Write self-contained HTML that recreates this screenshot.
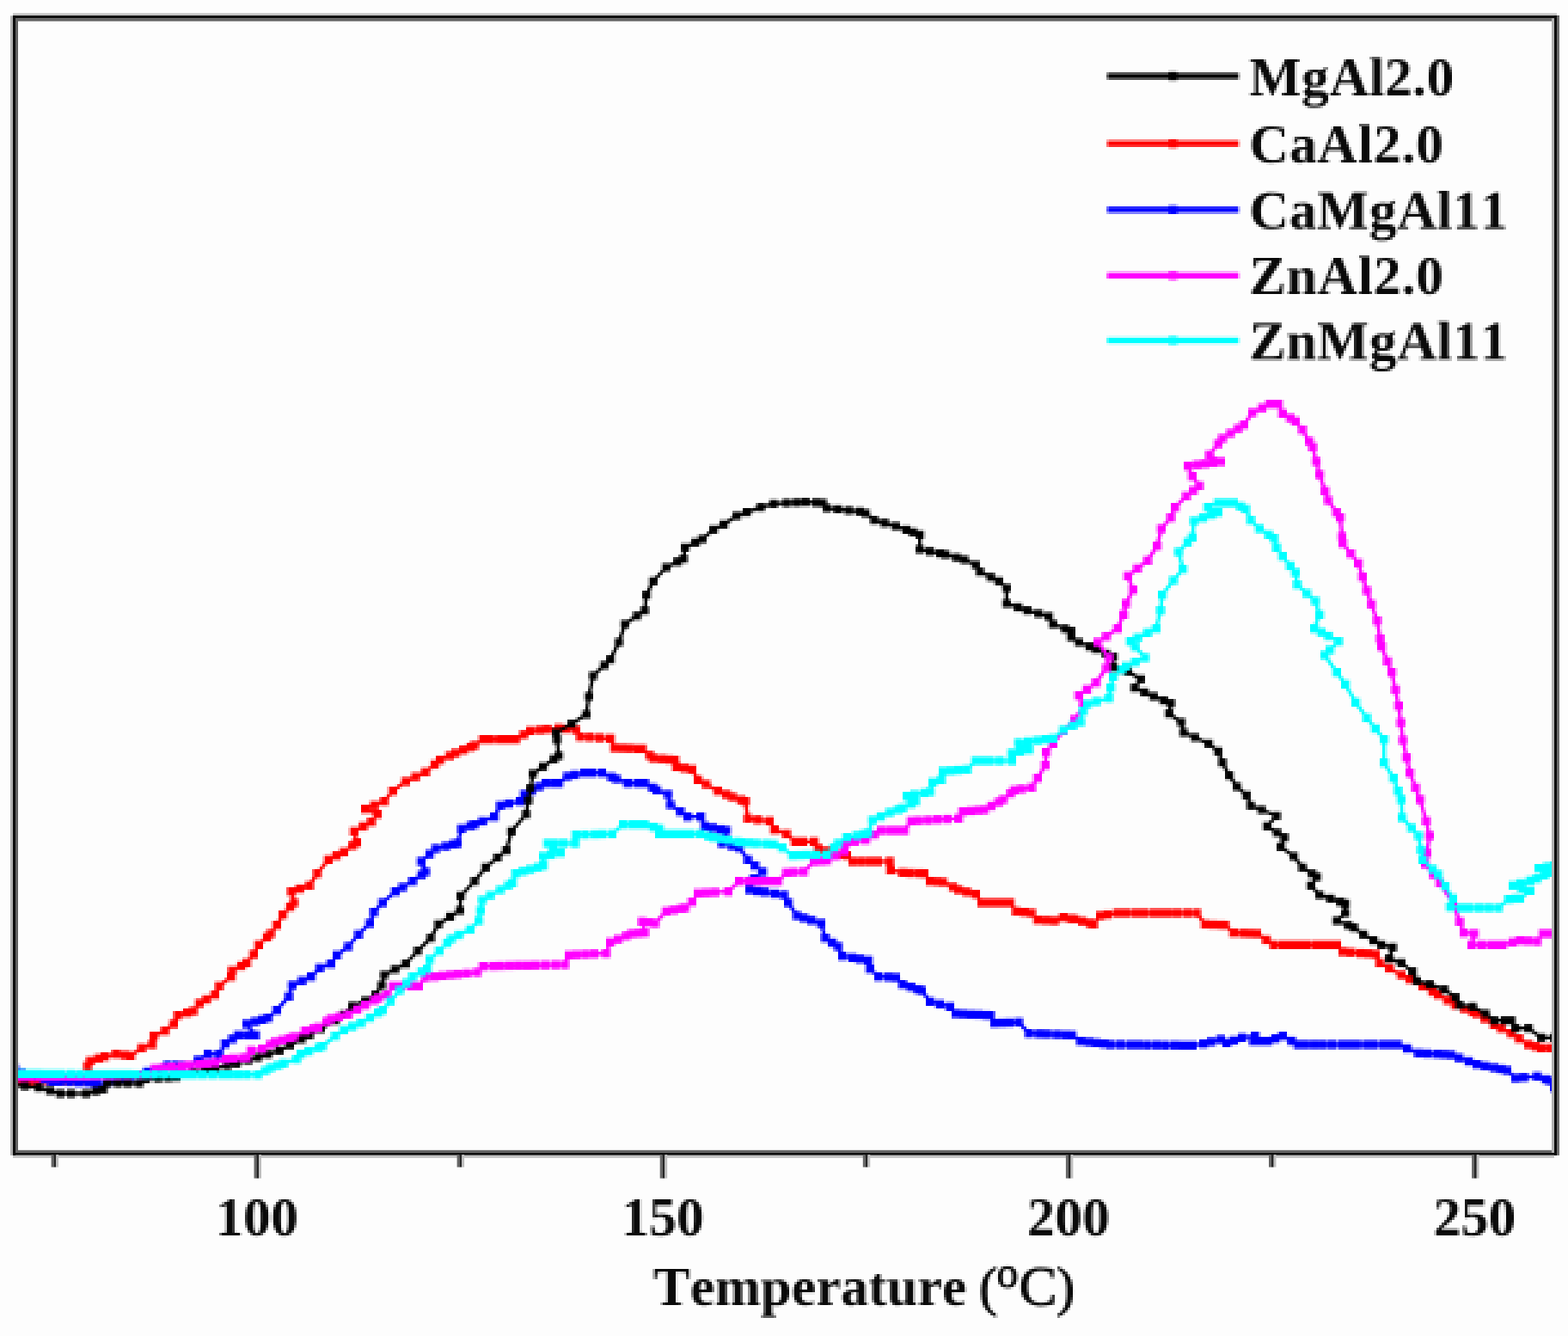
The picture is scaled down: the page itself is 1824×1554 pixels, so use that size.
<!DOCTYPE html>
<html><head><meta charset="utf-8"><title>TPD profiles</title>
<style>
html,body{margin:0;padding:0;background:#fdfdfd;}
body{width:1824px;height:1554px;}
svg{display:block;}
text{font-family:"Liberation Serif",serif;font-weight:bold;fill:#0a0a0a;font-kerning:none;font-variant-ligatures:none;}
.r{font-weight:normal;stroke:#0a0a0a;stroke-width:1.3px;}
</style></head><body>
<svg width="1824" height="1554" viewBox="0 0 1824 1554">
<defs><filter id="b2" x="0" y="0" width="1824" height="1554" filterUnits="userSpaceOnUse"><feGaussianBlur stdDeviation="0.55"/></filter>
<filter id="px" x="0" y="0" width="1824" height="1554" filterUnits="userSpaceOnUse" color-interpolation-filters="sRGB">
<feConvolveMatrix in="SourceGraphic" order="3" kernelMatrix="1 1 1 1 1 1 1 1 1" divisor="9" edgeMode="none" preserveAlpha="false" result="avg"/>
<feFlood x="1" y="1" width="1" height="1" flood-color="#000"/>
<feComposite width="3" height="3"/>
<feTile result="grid"/>
<feComposite in="avg" in2="grid" operator="in"/>
<feMorphology operator="dilate" radius="1"/>
<feGaussianBlur stdDeviation="0.6"/>
</filter>
<clipPath id="c"><rect x="17" y="20.5" width="1793" height="1321"/></clipPath></defs>
<rect width="1824" height="1554" fill="#fdfdfd"/>
<g filter="url(#px)">
<g clip-path="url(#c)">

<g id="red">
<polyline points="17,1257 100,1257 102,1240 105,1234 122,1229 135,1226 152,1228 165,1219 177,1215 179,1205 192,1199 202,1191 207,1181 225,1176 232,1167 250,1157 255,1147 269,1136 270,1129 287,1120 295,1110 301,1099 315,1086 322,1076 329,1064 342,1050 339,1037 360,1030 369,1016 382,1000 400,991 415,980 412,967 432,956 439,947 425,941 447,932 457,920 472,909 495,898 512,884 530,876 552,867 562,860 600,860 617,850 650,847 670,849 675,857 710,859 715,870 747,871 760,882 785,884 787,892 805,895 812,907 835,920 852,927 867,932 870,952 895,955 901,965 915,970 925,979 947,979 952,987 970,992 985,995 992,1002 1035,1002 1036,1012 1050,1015 1075,1016 1082,1025 1097,1026 1115,1035 1135,1040 1142,1050 1175,1050 1182,1060 1200,1062 1207,1070 1227,1071 1237,1067 1250,1069 1272,1075 1280,1065 1300,1062 1392,1062 1402,1075 1425,1076 1435,1085 1462,1086 1482,1099 1555,1099 1562,1107 1600,1110 1605,1120 1630,1134 1655,1147 1673,1157 1693,1169 1718,1179 1738,1192 1758,1202 1778,1215 1793,1219 1808,1219" fill="none" stroke="#ff0000" stroke-width="4.2" stroke-linejoin="bevel" stroke-linecap="butt"/>
<path d="M12 1252h10v10h-10zM21 1252h10v10h-10zM31 1252h10v10h-10zM40.4 1252h10v10h-10zM50.7 1252h10v10h-10zM61.1 1252h10v10h-10zM69.4 1252h10v10h-10zM77.6 1252h10v10h-10zM88.7 1252h10v10h-10zM95 1252h10v10h-10zM97 1235h10v10h-10zM100 1229h10v10h-10zM109.8 1226.1h10v10h-10zM117 1224h10v10h-10zM130 1221h10v10h-10zM140.4 1222.2h10v10h-10zM147 1223h10v10h-10zM160 1214h10v10h-10zM172 1210h10v10h-10zM174 1200h10v10h-10zM187 1194h10v10h-10zM197 1186h10v10h-10zM202 1176h10v10h-10zM212.8 1173h10v10h-10zM220 1171h10v10h-10zM227 1162h10v10h-10zM235.2 1157.4h10v10h-10zM245 1152h10v10h-10zM250 1142h10v10h-10zM264 1131h10v10h-10zM265 1124h10v10h-10zM275.7 1118.4h10v10h-10zM282 1115h10v10h-10zM290 1105h10v10h-10zM296 1094h10v10h-10zM305.7 1085h10v10h-10zM310 1081h10v10h-10zM317 1071h10v10h-10zM324 1059h10v10h-10zM332.6 1049.7h10v10h-10zM337 1045h10v10h-10zM334 1032h10v10h-10zM343.7 1028.8h10v10h-10zM355 1025h10v10h-10zM364 1011h10v10h-10zM377 995h10v10h-10zM386.5 990.3h10v10h-10zM395 986h10v10h-10zM405.2 978.5h10v10h-10zM410 975h10v10h-10zM407 962h10v10h-10zM417.6 956.2h10v10h-10zM427 951h10v10h-10zM434 942h10v10h-10zM420 936h10v10h-10zM430.5 931.7h10v10h-10zM442 927h10v10h-10zM452 915h10v10h-10zM467 904h10v10h-10zM478.4 898.6h10v10h-10zM490 893h10v10h-10zM500.7 884.2h10v10h-10zM507 879h10v10h-10zM518.1 874.1h10v10h-10zM525 871h10v10h-10zM534.1 867.3h10v10h-10zM542.5 863.9h10v10h-10zM547 862h10v10h-10zM557 855h10v10h-10zM565.4 855h10v10h-10zM576.4 855h10v10h-10zM586 855h10v10h-10zM595 855h10v10h-10zM604.2 849.6h10v10h-10zM612 845h10v10h-10zM623.2 844h10v10h-10zM631.5 843.2h10v10h-10zM645 842h10v10h-10zM653.3 842.8h10v10h-10zM665 844h10v10h-10zM670 852h10v10h-10zM681.3 852.6h10v10h-10zM692.9 853.3h10v10h-10zM705 854h10v10h-10zM710 865h10v10h-10zM719.2 865.3h10v10h-10zM727.6 865.5h10v10h-10zM737.9 865.9h10v10h-10zM742 866h10v10h-10zM750.8 873.5h10v10h-10zM755 877h10v10h-10zM765.3 877.8h10v10h-10zM774 878.5h10v10h-10zM780 879h10v10h-10zM782 887h10v10h-10zM791.2 888.5h10v10h-10zM800 890h10v10h-10zM807 902h10v10h-10zM816.5 907.3h10v10h-10zM830 915h10v10h-10zM840 919.1h10v10h-10zM847 922h10v10h-10zM857.2 925.4h10v10h-10zM862 927h10v10h-10zM865 947h10v10h-10zM876.5 948.4h10v10h-10zM890 950h10v10h-10zM896 960h10v10h-10zM910 965h10v10h-10zM920 974h10v10h-10zM929.2 974h10v10h-10zM942 974h10v10h-10zM947 982h10v10h-10zM957.1 984.8h10v10h-10zM965 987h10v10h-10zM974.6 988.9h10v10h-10zM980 990h10v10h-10zM987 997h10v10h-10zM997.3 997h10v10h-10zM1007.7 997h10v10h-10zM1016 997h10v10h-10zM1030 997h10v10h-10zM1031 1007h10v10h-10zM1045 1010h10v10h-10zM1054.4 1010.4h10v10h-10zM1065 1010.8h10v10h-10zM1070 1011h10v10h-10zM1077 1020h10v10h-10zM1085.3 1020.6h10v10h-10zM1092 1021h10v10h-10zM1103.6 1026.8h10v10h-10zM1110 1030h10v10h-10zM1119.7 1032.4h10v10h-10zM1130 1035h10v10h-10zM1137 1045h10v10h-10zM1146.4 1045h10v10h-10zM1155.6 1045h10v10h-10zM1165.1 1045h10v10h-10zM1170 1045h10v10h-10zM1177 1055h10v10h-10zM1186.5 1056.1h10v10h-10zM1195 1057h10v10h-10zM1202 1065h10v10h-10zM1212.1 1065.5h10v10h-10zM1222 1066h10v10h-10zM1232 1062h10v10h-10zM1240.9 1063.4h10v10h-10zM1245 1064h10v10h-10zM1254 1066.4h10v10h-10zM1262.7 1068.8h10v10h-10zM1267 1070h10v10h-10zM1275 1060h10v10h-10zM1283.5 1058.7h10v10h-10zM1295 1057h10v10h-10zM1304.3 1057h10v10h-10zM1315.4 1057h10v10h-10zM1325.1 1057h10v10h-10zM1336.3 1057h10v10h-10zM1345 1057h10v10h-10zM1354.3 1057h10v10h-10zM1364.7 1057h10v10h-10zM1376 1057h10v10h-10zM1387 1057h10v10h-10zM1397 1070h10v10h-10zM1405.5 1070.4h10v10h-10zM1415.5 1070.8h10v10h-10zM1420 1071h10v10h-10zM1430 1080h10v10h-10zM1441.1 1080.4h10v10h-10zM1449.9 1080.7h10v10h-10zM1457 1081h10v10h-10zM1468 1088.2h10v10h-10zM1477 1094h10v10h-10zM1488 1094h10v10h-10zM1497.3 1094h10v10h-10zM1505.9 1094h10v10h-10zM1515.1 1094h10v10h-10zM1526 1094h10v10h-10zM1535.1 1094h10v10h-10zM1544.4 1094h10v10h-10zM1550 1094h10v10h-10zM1557 1102h10v10h-10zM1566.6 1102.8h10v10h-10zM1578 1103.7h10v10h-10zM1586.7 1104.3h10v10h-10zM1595 1105h10v10h-10zM1600 1115h10v10h-10zM1611.3 1121.3h10v10h-10zM1625 1129h10v10h-10zM1634.7 1134h10v10h-10zM1650 1142h10v10h-10zM1661.4 1148.4h10v10h-10zM1668 1152h10v10h-10zM1678.8 1158.5h10v10h-10zM1688 1164h10v10h-10zM1698.5 1168.2h10v10h-10zM1708.5 1172.2h10v10h-10zM1713 1174h10v10h-10zM1722.3 1180.1h10v10h-10zM1733 1187h10v10h-10zM1741.3 1191.2h10v10h-10zM1753 1197h10v10h-10zM1762.1 1202.9h10v10h-10zM1773 1210h10v10h-10zM1781.3 1212.2h10v10h-10zM1788 1214h10v10h-10zM1798.6 1214h10v10h-10zM1803 1214h10v10h-10z" fill="#ff0000"/>
</g>
<g id="blue">
<polyline points="17,1243 25,1248 60,1258 125,1260 160,1250 195,1239 220,1239 242,1226 255,1226 262,1214 277,1204 297,1204 287,1191 312,1184 322,1175 336,1159 340,1146 362,1136 372,1126 385,1121 392,1111 405,1101 417,1087 430,1074 435,1061 445,1050 460,1037 480,1025 495,1014 490,1002 507,987 532,981 537,964 552,959 575,950 582,937 605,932 610,924 635,911 650,911 660,903 680,899 700,899 717,906 730,911 750,911 764,919 777,924 780,936 800,950 815,950 820,961 845,966 840,981 860,986 870,1000 887,1014 877,1022 872,1035 912,1041 917,1050 927,1065 955,1074 960,1091 975,1101 980,1112 1010,1117 1012,1127 1022,1136 1042,1137 1050,1145 1072,1152 1082,1165 1105,1171 1112,1179 1152,1181 1157,1190 1185,1189 1197,1202 1247,1204 1257,1211 1292,1215 1387,1216 1400,1214 1420,1209 1427,1213 1445,1207 1460,1205 1458,1211 1475,1211 1492,1205 1510,1215 1626,1215 1650,1225 1688,1227 1718,1238 1738,1242 1753,1245 1763,1254 1788,1252 1803,1257 1808,1265" fill="none" stroke="#0000ff" stroke-width="4.2" stroke-linejoin="bevel" stroke-linecap="butt"/>
<path d="M12 1238h10v10h-10zM20 1243h10v10h-10zM28.5 1245.4h10v10h-10zM38 1248.1h10v10h-10zM46.7 1250.6h10v10h-10zM55 1253h10v10h-10zM64.5 1253.3h10v10h-10zM76 1253.6h10v10h-10zM86.9 1254h10v10h-10zM97.8 1254.3h10v10h-10zM106.7 1254.6h10v10h-10zM120 1255h10v10h-10zM129.1 1252.4h10v10h-10zM137.8 1249.9h10v10h-10zM146.3 1247.5h10v10h-10zM155 1245h10v10h-10zM166.4 1241.4h10v10h-10zM177.5 1237.9h10v10h-10zM190 1234h10v10h-10zM201 1234h10v10h-10zM209.8 1234h10v10h-10zM215 1234h10v10h-10zM225.4 1227.9h10v10h-10zM237 1221h10v10h-10zM250 1221h10v10h-10zM257 1209h10v10h-10zM265.4 1203.4h10v10h-10zM272 1199h10v10h-10zM282.5 1199h10v10h-10zM292 1199h10v10h-10zM282 1186h10v10h-10zM291.8 1183.3h10v10h-10zM300.2 1180.9h10v10h-10zM307 1179h10v10h-10zM317 1170h10v10h-10zM331 1154h10v10h-10zM335 1141h10v10h-10zM346.4 1135.8h10v10h-10zM357 1131h10v10h-10zM367 1121h10v10h-10zM380 1116h10v10h-10zM387 1106h10v10h-10zM400 1096h10v10h-10zM412 1082h10v10h-10zM425 1069h10v10h-10zM430 1056h10v10h-10zM440 1045h10v10h-10zM455 1032h10v10h-10zM463.3 1027h10v10h-10zM475 1020h10v10h-10zM485.4 1012.4h10v10h-10zM490 1009h10v10h-10zM485 997h10v10h-10zM494.8 988.4h10v10h-10zM502 982h10v10h-10zM513.7 979.2h10v10h-10zM522.5 977.1h10v10h-10zM527 976h10v10h-10zM532 959h10v10h-10zM542.4 955.5h10v10h-10zM547 954h10v10h-10zM556.4 950.3h10v10h-10zM570 945h10v10h-10zM577 932h10v10h-10zM587.1 929.8h10v10h-10zM600 927h10v10h-10zM605 919h10v10h-10zM613.3 914.7h10v10h-10zM622.2 910h10v10h-10zM630 906h10v10h-10zM640.3 906h10v10h-10zM645 906h10v10h-10zM655 898h10v10h-10zM663.7 896.3h10v10h-10zM675 894h10v10h-10zM683.3 894h10v10h-10zM695 894h10v10h-10zM706.3 898.7h10v10h-10zM712 901h10v10h-10zM725 906h10v10h-10zM736.6 906h10v10h-10zM745 906h10v10h-10zM754.1 911.2h10v10h-10zM759 914h10v10h-10zM772 919h10v10h-10zM775 931h10v10h-10zM786.5 939h10v10h-10zM795 945h10v10h-10zM810 945h10v10h-10zM815 956h10v10h-10zM823.8 957.8h10v10h-10zM833.5 959.7h10v10h-10zM840 961h10v10h-10zM835 976h10v10h-10zM846.6 978.9h10v10h-10zM855 981h10v10h-10zM865 995h10v10h-10zM873.3 1001.8h10v10h-10zM882 1009h10v10h-10zM872 1017h10v10h-10zM867 1030h10v10h-10zM876.1 1031.4h10v10h-10zM884.6 1032.6h10v10h-10zM896.2 1034.4h10v10h-10zM907 1036h10v10h-10zM912 1045h10v10h-10zM922 1060h10v10h-10zM930.3 1062.7h10v10h-10zM939 1065.5h10v10h-10zM950 1069h10v10h-10zM955 1086h10v10h-10zM963.2 1091.5h10v10h-10zM970 1096h10v10h-10zM975 1107h10v10h-10zM986.7 1108.9h10v10h-10zM995.2 1110.4h10v10h-10zM1005 1112h10v10h-10zM1007 1122h10v10h-10zM1017 1131h10v10h-10zM1028.7 1131.6h10v10h-10zM1037 1132h10v10h-10zM1045 1140h10v10h-10zM1054.6 1143h10v10h-10zM1062.8 1145.7h10v10h-10zM1067 1147h10v10h-10zM1077 1160h10v10h-10zM1088.3 1162.9h10v10h-10zM1100 1166h10v10h-10zM1107 1174h10v10h-10zM1115.2 1174.4h10v10h-10zM1124.2 1174.9h10v10h-10zM1133.2 1175.3h10v10h-10zM1142.1 1175.8h10v10h-10zM1147 1176h10v10h-10zM1152 1185h10v10h-10zM1160.6 1184.7h10v10h-10zM1168.9 1184.4h10v10h-10zM1180 1184h10v10h-10zM1192 1197h10v10h-10zM1203.7 1197.5h10v10h-10zM1213.2 1197.8h10v10h-10zM1224.6 1198.3h10v10h-10zM1235 1198.7h10v10h-10zM1242 1199h10v10h-10zM1252 1206h10v10h-10zM1261.9 1207.1h10v10h-10zM1270.3 1208.1h10v10h-10zM1279.2 1209.1h10v10h-10zM1287 1210h10v10h-10zM1298.3 1210.1h10v10h-10zM1309.8 1210.2h10v10h-10zM1319.1 1210.3h10v10h-10zM1329.5 1210.4h10v10h-10zM1340.5 1210.6h10v10h-10zM1350.9 1210.7h10v10h-10zM1362 1210.8h10v10h-10zM1372 1210.9h10v10h-10zM1382 1211h10v10h-10zM1395 1209h10v10h-10zM1404.1 1206.7h10v10h-10zM1415 1204h10v10h-10zM1422 1208h10v10h-10zM1430.4 1205.2h10v10h-10zM1440 1202h10v10h-10zM1455 1200h10v10h-10zM1453 1206h10v10h-10zM1461.3 1206h10v10h-10zM1470 1206h10v10h-10zM1478.6 1203h10v10h-10zM1487 1200h10v10h-10zM1497.5 1205.8h10v10h-10zM1505 1210h10v10h-10zM1513.7 1210h10v10h-10zM1524.1 1210h10v10h-10zM1534.2 1210h10v10h-10zM1545 1210h10v10h-10zM1556.5 1210h10v10h-10zM1565.4 1210h10v10h-10zM1573.5 1210h10v10h-10zM1584.9 1210h10v10h-10zM1593 1210h10v10h-10zM1604.3 1210h10v10h-10zM1612.8 1210h10v10h-10zM1621 1210h10v10h-10zM1631.9 1214.5h10v10h-10zM1645 1220h10v10h-10zM1655.1 1220.5h10v10h-10zM1666.3 1221.1h10v10h-10zM1675.2 1221.6h10v10h-10zM1683 1222h10v10h-10zM1692.3 1225.4h10v10h-10zM1703.6 1229.6h10v10h-10zM1713 1233h10v10h-10zM1722.8 1235h10v10h-10zM1733 1237h10v10h-10zM1741.2 1238.6h10v10h-10zM1748 1240h10v10h-10zM1758 1249h10v10h-10zM1767.9 1248.2h10v10h-10zM1783 1247h10v10h-10zM1793.3 1250.4h10v10h-10zM1798 1252h10v10h-10zM1803 1260h10v10h-10z" fill="#0000ff"/>
</g>
<g id="black">
<polyline points="17,1262 45,1265 70,1272 100,1272 120,1267 125,1260 162,1260 170,1255 205,1253 225,1248 275,1237 300,1230 325,1222 360,1204 390,1187 400,1180 410,1170 425,1164 437,1157 444,1146 447,1134 472,1121 486,1106 501,1091 510,1075 535,1059 536,1042 552,1025 565,1009 589,989 595,967 612,947 617,917 620,900 650,879 647,852 665,842 682,831 685,810 690,786 710,767 720,747 727,726 750,710 752,692 760,676 775,660 795,650 797,637 817,627 830,616 842,610 857,600 885,590 900,586 915,585 937,584 957,585 962,591 1000,595 1007,597 1017,605 1042,612 1062,619 1070,622 1070,639 1100,645 1122,651 1135,657 1140,665 1162,676 1171,684 1171,702 1195,710 1220,717 1225,726 1246,734 1246,741 1255,747 1275,755 1295,764 1295,776 1312,781 1327,790 1320,800 1342,810 1362,818 1360,830 1374,840 1377,852 1406,865 1417,874 1422,887 1430,902 1439,915 1450,925 1455,937 1485,949 1474,961 1494,974 1490,985 1505,996 1515,1009 1532,1020 1525,1030 1535,1041 1565,1051 1565,1062 1555,1071 1575,1079 1586,1087 1607,1099 1620,1102 1616,1115 1630,1120 1643,1130 1648,1141 1663,1145 1680,1151 1693,1160 1698,1169 1713,1171 1728,1179 1738,1187 1758,1187 1763,1196 1778,1196 1793,1207 1808,1207" fill="none" stroke="#000" stroke-width="4.0" stroke-linejoin="bevel" stroke-linecap="butt"/>
<path d="M12.2 1257.2h9.6v9.6h-9.6zM24.4 1258.5h9.6v9.6h-9.6zM40.2 1260.2h9.6v9.6h-9.6zM53.4 1263.9h9.6v9.6h-9.6zM65.2 1267.2h9.6v9.6h-9.6zM78 1267.2h9.6v9.6h-9.6zM95.2 1267.2h9.6v9.6h-9.6zM106.6 1264.3h9.6v9.6h-9.6zM115.2 1262.2h9.6v9.6h-9.6zM120.2 1255.2h9.6v9.6h-9.6zM132.7 1255.2h9.6v9.6h-9.6zM144.2 1255.2h9.6v9.6h-9.6zM157.2 1255.2h9.6v9.6h-9.6zM165.2 1250.2h9.6v9.6h-9.6zM178.9 1249.4h9.6v9.6h-9.6zM190.5 1248.8h9.6v9.6h-9.6zM200.2 1248.2h9.6v9.6h-9.6zM213.3 1244.9h9.6v9.6h-9.6zM220.2 1243.2h9.6v9.6h-9.6zM233.1 1240.4h9.6v9.6h-9.6zM245.6 1237.6h9.6v9.6h-9.6zM259.7 1234.5h9.6v9.6h-9.6zM270.2 1232.2h9.6v9.6h-9.6zM284 1228.3h9.6v9.6h-9.6zM295.2 1225.2h9.6v9.6h-9.6zM306.9 1221.5h9.6v9.6h-9.6zM320.2 1217.2h9.6v9.6h-9.6zM332.4 1210.9h9.6v9.6h-9.6zM346 1203.9h9.6v9.6h-9.6zM355.2 1199.2h9.6v9.6h-9.6zM368.2 1191.9h9.6v9.6h-9.6zM385.2 1182.2h9.6v9.6h-9.6zM395.2 1175.2h9.6v9.6h-9.6zM405.2 1165.2h9.6v9.6h-9.6zM420.2 1159.2h9.6v9.6h-9.6zM432.2 1152.2h9.6v9.6h-9.6zM439.2 1141.2h9.6v9.6h-9.6zM442.2 1129.2h9.6v9.6h-9.6zM454.7 1122.7h9.6v9.6h-9.6zM467.2 1116.2h9.6v9.6h-9.6zM481.2 1101.2h9.6v9.6h-9.6zM496.2 1086.2h9.6v9.6h-9.6zM505.2 1070.2h9.6v9.6h-9.6zM518.8 1061.5h9.6v9.6h-9.6zM530.2 1054.2h9.6v9.6h-9.6zM531.2 1037.2h9.6v9.6h-9.6zM547.2 1020.2h9.6v9.6h-9.6zM560.2 1004.2h9.6v9.6h-9.6zM574 992.7h9.6v9.6h-9.6zM584.2 984.2h9.6v9.6h-9.6zM590.2 962.2h9.6v9.6h-9.6zM607.2 942.2h9.6v9.6h-9.6zM609.9 926h9.6v9.6h-9.6zM612.2 912.2h9.6v9.6h-9.6zM615.2 895.2h9.6v9.6h-9.6zM626.9 887h9.6v9.6h-9.6zM639.6 878.1h9.6v9.6h-9.6zM645.2 874.2h9.6v9.6h-9.6zM643.1 855.6h9.6v9.6h-9.6zM642.2 847.2h9.6v9.6h-9.6zM660.2 837.2h9.6v9.6h-9.6zM677.2 826.2h9.6v9.6h-9.6zM680.2 805.2h9.6v9.6h-9.6zM685.2 781.2h9.6v9.6h-9.6zM698.2 768.9h9.6v9.6h-9.6zM705.2 762.2h9.6v9.6h-9.6zM715.2 742.2h9.6v9.6h-9.6zM722.2 721.2h9.6v9.6h-9.6zM736.2 711.5h9.6v9.6h-9.6zM745.2 705.2h9.6v9.6h-9.6zM747.2 687.2h9.6v9.6h-9.6zM755.2 671.2h9.6v9.6h-9.6zM770.2 655.2h9.6v9.6h-9.6zM783.3 648.6h9.6v9.6h-9.6zM790.2 645.2h9.6v9.6h-9.6zM792.2 632.2h9.6v9.6h-9.6zM804.3 626.2h9.6v9.6h-9.6zM812.2 622.2h9.6v9.6h-9.6zM825.2 611.2h9.6v9.6h-9.6zM837.2 605.2h9.6v9.6h-9.6zM852.2 595.2h9.6v9.6h-9.6zM864 591h9.6v9.6h-9.6zM880.2 585.2h9.6v9.6h-9.6zM895.2 581.2h9.6v9.6h-9.6zM910.2 580.2h9.6v9.6h-9.6zM921.9 579.7h9.6v9.6h-9.6zM932.2 579.2h9.6v9.6h-9.6zM944.6 579.8h9.6v9.6h-9.6zM952.2 580.2h9.6v9.6h-9.6zM957.2 586.2h9.6v9.6h-9.6zM969.8 587.5h9.6v9.6h-9.6zM982.6 588.9h9.6v9.6h-9.6zM995.2 590.2h9.6v9.6h-9.6zM1002.2 592.2h9.6v9.6h-9.6zM1012.2 600.2h9.6v9.6h-9.6zM1024.3 603.6h9.6v9.6h-9.6zM1037.2 607.2h9.6v9.6h-9.6zM1049.5 611.5h9.6v9.6h-9.6zM1057.2 614.2h9.6v9.6h-9.6zM1065.2 617.2h9.6v9.6h-9.6zM1065.2 634.2h9.6v9.6h-9.6zM1077 636.6h9.6v9.6h-9.6zM1088.9 638.9h9.6v9.6h-9.6zM1095.2 640.2h9.6v9.6h-9.6zM1107.9 643.7h9.6v9.6h-9.6zM1117.2 646.2h9.6v9.6h-9.6zM1130.2 652.2h9.6v9.6h-9.6zM1135.2 660.2h9.6v9.6h-9.6zM1147.7 666.4h9.6v9.6h-9.6zM1157.2 671.2h9.6v9.6h-9.6zM1166.2 679.2h9.6v9.6h-9.6zM1166.2 697.2h9.6v9.6h-9.6zM1179.5 701.6h9.6v9.6h-9.6zM1190.2 705.2h9.6v9.6h-9.6zM1203.3 708.9h9.6v9.6h-9.6zM1215.2 712.2h9.6v9.6h-9.6zM1220.2 721.2h9.6v9.6h-9.6zM1234.1 726.5h9.6v9.6h-9.6zM1241.2 729.2h9.6v9.6h-9.6zM1241.2 736.2h9.6v9.6h-9.6zM1250.2 742.2h9.6v9.6h-9.6zM1262.6 747.2h9.6v9.6h-9.6zM1270.2 750.2h9.6v9.6h-9.6zM1281.8 755.4h9.6v9.6h-9.6zM1290.2 759.2h9.6v9.6h-9.6zM1290.2 771.2h9.6v9.6h-9.6zM1301.7 774.6h9.6v9.6h-9.6zM1307.2 776.2h9.6v9.6h-9.6zM1322.2 785.2h9.6v9.6h-9.6zM1315.2 795.2h9.6v9.6h-9.6zM1326.6 800.4h9.6v9.6h-9.6zM1337.2 805.2h9.6v9.6h-9.6zM1348.9 809.9h9.6v9.6h-9.6zM1357.2 813.2h9.6v9.6h-9.6zM1355.2 825.2h9.6v9.6h-9.6zM1369.2 835.2h9.6v9.6h-9.6zM1372.2 847.2h9.6v9.6h-9.6zM1385.2 853h9.6v9.6h-9.6zM1401.2 860.2h9.6v9.6h-9.6zM1412.2 869.2h9.6v9.6h-9.6zM1417.2 882.2h9.6v9.6h-9.6zM1425.2 897.2h9.6v9.6h-9.6zM1434.2 910.2h9.6v9.6h-9.6zM1445.2 920.2h9.6v9.6h-9.6zM1450.2 932.2h9.6v9.6h-9.6zM1462.8 937.2h9.6v9.6h-9.6zM1480.2 944.2h9.6v9.6h-9.6zM1469.2 956.2h9.6v9.6h-9.6zM1480.8 963.7h9.6v9.6h-9.6zM1489.2 969.2h9.6v9.6h-9.6zM1485.2 980.2h9.6v9.6h-9.6zM1500.2 991.2h9.6v9.6h-9.6zM1510.2 1004.2h9.6v9.6h-9.6zM1521.5 1011.5h9.6v9.6h-9.6zM1527.2 1015.2h9.6v9.6h-9.6zM1520.2 1025.2h9.6v9.6h-9.6zM1530.2 1036.2h9.6v9.6h-9.6zM1543 1040.5h9.6v9.6h-9.6zM1554.4 1044.3h9.6v9.6h-9.6zM1560.2 1046.2h9.6v9.6h-9.6zM1560.2 1057.2h9.6v9.6h-9.6zM1550.2 1066.2h9.6v9.6h-9.6zM1563.5 1071.5h9.6v9.6h-9.6zM1570.2 1074.2h9.6v9.6h-9.6zM1581.2 1082.2h9.6v9.6h-9.6zM1593 1088.9h9.6v9.6h-9.6zM1602.2 1094.2h9.6v9.6h-9.6zM1615.2 1097.2h9.6v9.6h-9.6zM1611.2 1110.2h9.6v9.6h-9.6zM1625.2 1115.2h9.6v9.6h-9.6zM1638.2 1125.2h9.6v9.6h-9.6zM1643.2 1136.2h9.6v9.6h-9.6zM1658.2 1140.2h9.6v9.6h-9.6zM1675.2 1146.2h9.6v9.6h-9.6zM1688.2 1155.2h9.6v9.6h-9.6zM1693.2 1164.2h9.6v9.6h-9.6zM1708.2 1166.2h9.6v9.6h-9.6zM1723.2 1174.2h9.6v9.6h-9.6zM1733.2 1182.2h9.6v9.6h-9.6zM1745.5 1182.2h9.6v9.6h-9.6zM1753.2 1182.2h9.6v9.6h-9.6zM1758.2 1191.2h9.6v9.6h-9.6zM1773.2 1191.2h9.6v9.6h-9.6zM1788.2 1202.2h9.6v9.6h-9.6zM1803.2 1202.2h9.6v9.6h-9.6z" fill="#000"/>
</g>
<g id="magenta">
<polyline points="17,1253 100,1252 172,1250 180,1243 250,1236 262,1232 287,1230 292,1222 305,1220 320,1212 342,1206 355,1199 370,1195 385,1185 405,1180 425,1169 440,1161 450,1157 457,1147 487,1147 495,1137 555,1131 562,1124 657,1122 662,1111 705,1109 710,1096 735,1086 750,1085 747,1072 762,1074 775,1060 797,1056 805,1049 812,1039 847,1037 860,1025 905,1025 915,1015 935,1014 947,1002 962,1001 982,990 985,980 1007,977 1025,966 1052,966 1060,955 1115,952 1120,944 1145,942 1167,930 1180,919 1200,916 1207,905 1216,890 1217,875 1225,865 1237,850 1250,837 1260,822 1255,809 1275,794 1287,777 1290,765 1277,747 1300,731 1307,715 1310,702 1318,686 1312,670 1335,652 1346,635 1351,615 1362,602 1367,590 1380,577 1395,565 1387,554 1382,542 1420,537 1407,529 1422,510 1447,494 1457,480 1477,470 1487,470 1492,481 1507,490 1515,500 1527,520 1535,552 1545,582 1559,602 1562,632 1580,655 1590,687 1602,722 1607,752 1619,782 1627,821 1632,861 1640,899 1652,930 1659,955 1663,972 1658,1005 1675,1027 1690,1050 1698,1072 1703,1085 1715,1086 1712,1099 1748,1099 1768,1094 1788,1095 1795,1086 1808,1086" fill="none" stroke="#ff00ff" stroke-width="4.2" stroke-linejoin="bevel" stroke-linecap="butt"/>
<path d="M12 1248h10v10h-10zM21.3 1247.9h10v10h-10zM29.9 1247.8h10v10h-10zM40.4 1247.7h10v10h-10zM48.7 1247.6h10v10h-10zM58.7 1247.4h10v10h-10zM68.2 1247.3h10v10h-10zM76.5 1247.2h10v10h-10zM86.4 1247.1h10v10h-10zM95 1247h10v10h-10zM104.7 1246.7h10v10h-10zM113 1246.5h10v10h-10zM121.4 1246.3h10v10h-10zM131.1 1246h10v10h-10zM142.1 1245.7h10v10h-10zM150.7 1245.5h10v10h-10zM159.6 1245.2h10v10h-10zM167 1245h10v10h-10zM175 1238h10v10h-10zM185.2 1237h10v10h-10zM194.7 1236h10v10h-10zM206.3 1234.9h10v10h-10zM214.6 1234h10v10h-10zM225.8 1232.9h10v10h-10zM234.9 1232h10v10h-10zM245 1231h10v10h-10zM257 1227h10v10h-10zM266.2 1226.3h10v10h-10zM277.2 1225.4h10v10h-10zM282 1225h10v10h-10zM287 1217h10v10h-10zM300 1215h10v10h-10zM309.4 1210h10v10h-10zM315 1207h10v10h-10zM323.3 1204.7h10v10h-10zM331.6 1202.5h10v10h-10zM337 1201h10v10h-10zM350 1194h10v10h-10zM359.6 1191.4h10v10h-10zM365 1190h10v10h-10zM375.2 1183.2h10v10h-10zM380 1180h10v10h-10zM389.2 1177.7h10v10h-10zM400 1175h10v10h-10zM410.6 1169.2h10v10h-10zM420 1164h10v10h-10zM430.2 1158.6h10v10h-10zM435 1156h10v10h-10zM445 1152h10v10h-10zM452 1142h10v10h-10zM461.1 1142h10v10h-10zM472.8 1142h10v10h-10zM482 1142h10v10h-10zM490 1132h10v10h-10zM500.8 1130.9h10v10h-10zM509.5 1130.1h10v10h-10zM519.3 1129.1h10v10h-10zM527.6 1128.2h10v10h-10zM538.1 1127.2h10v10h-10zM550 1126h10v10h-10zM557 1119h10v10h-10zM568.3 1118.8h10v10h-10zM577.5 1118.6h10v10h-10zM588.1 1118.3h10v10h-10zM598.3 1118.1h10v10h-10zM608.5 1117.9h10v10h-10zM618.3 1117.7h10v10h-10zM629.4 1117.5h10v10h-10zM640.9 1117.2h10v10h-10zM652 1117h10v10h-10zM657 1106h10v10h-10zM665.3 1105.6h10v10h-10zM675.9 1105.1h10v10h-10zM686.4 1104.6h10v10h-10zM700 1104h10v10h-10zM705 1091h10v10h-10zM714.1 1087.4h10v10h-10zM723.6 1083.6h10v10h-10zM730 1081h10v10h-10zM738.2 1080.5h10v10h-10zM745 1080h10v10h-10zM742 1067h10v10h-10zM750.5 1068.1h10v10h-10zM757 1069h10v10h-10zM770 1055h10v10h-10zM778.6 1053.4h10v10h-10zM787.6 1051.8h10v10h-10zM792 1051h10v10h-10zM800 1044h10v10h-10zM807 1034h10v10h-10zM816.7 1033.4h10v10h-10zM826.8 1032.9h10v10h-10zM842 1032h10v10h-10zM855 1020h10v10h-10zM866.2 1020h10v10h-10zM875.3 1020h10v10h-10zM884.9 1020h10v10h-10zM894.3 1020h10v10h-10zM900 1020h10v10h-10zM910 1010h10v10h-10zM918.6 1009.6h10v10h-10zM930 1009h10v10h-10zM942 997h10v10h-10zM950.9 996.4h10v10h-10zM957 996h10v10h-10zM967.2 990.4h10v10h-10zM977 985h10v10h-10zM980 975h10v10h-10zM989.6 973.7h10v10h-10zM1002 972h10v10h-10zM1012.1 965.8h10v10h-10zM1020 961h10v10h-10zM1030.6 961h10v10h-10zM1040.5 961h10v10h-10zM1047 961h10v10h-10zM1055 950h10v10h-10zM1063.3 949.5h10v10h-10zM1074.6 948.9h10v10h-10zM1085.5 948.3h10v10h-10zM1096.8 947.7h10v10h-10zM1110 947h10v10h-10zM1115 939h10v10h-10zM1124.5 938.2h10v10h-10zM1133 937.6h10v10h-10zM1140 937h10v10h-10zM1148.3 932.5h10v10h-10zM1156.7 927.9h10v10h-10zM1162 925h10v10h-10zM1170.7 917.7h10v10h-10zM1175 914h10v10h-10zM1183.3 912.8h10v10h-10zM1195 911h10v10h-10zM1202 900h10v10h-10zM1211 885h10v10h-10zM1212 870h10v10h-10zM1220 860h10v10h-10zM1232 845h10v10h-10zM1245 832h10v10h-10zM1255 817h10v10h-10zM1250 804h10v10h-10zM1259.4 797h10v10h-10zM1270 789h10v10h-10zM1282 772h10v10h-10zM1285 760h10v10h-10zM1272 742h10v10h-10zM1281.8 735.2h10v10h-10zM1295 726h10v10h-10zM1302 710h10v10h-10zM1305 697h10v10h-10zM1313 681h10v10h-10zM1307 665h10v10h-10zM1318.1 656.3h10v10h-10zM1330 647h10v10h-10zM1341 630h10v10h-10zM1346 610h10v10h-10zM1357 597h10v10h-10zM1362 585h10v10h-10zM1375 572h10v10h-10zM1383.2 565.4h10v10h-10zM1390 560h10v10h-10zM1382 549h10v10h-10zM1377 537h10v10h-10zM1387.6 535.6h10v10h-10zM1396.6 534.4h10v10h-10zM1406.1 533.2h10v10h-10zM1415 532h10v10h-10zM1402 524h10v10h-10zM1412 511.3h10v10h-10zM1417 505h10v10h-10zM1426.3 499.1h10v10h-10zM1435.2 493.4h10v10h-10zM1442 489h10v10h-10zM1452 475h10v10h-10zM1463.2 469.4h10v10h-10zM1472 465h10v10h-10zM1482 465h10v10h-10zM1487 476h10v10h-10zM1495.9 481.3h10v10h-10zM1502 485h10v10h-10zM1510 495h10v10h-10zM1518 508.3h10v10h-10zM1522 515h10v10h-10zM1526.2 531.7h10v10h-10zM1530 547h10v10h-10zM1536.3 566h10v10h-10zM1540 577h10v10h-10zM1549.7 590.9h10v10h-10zM1554 597h10v10h-10zM1556.2 618.9h10v10h-10zM1557 627h10v10h-10zM1566.4 639h10v10h-10zM1575 650h10v10h-10zM1580 666.1h10v10h-10zM1585 682h10v10h-10zM1590.4 697.8h10v10h-10zM1597 717h10v10h-10zM1600.5 738.1h10v10h-10zM1602 747h10v10h-10zM1608.9 764.2h10v10h-10zM1614 777h10v10h-10zM1618.2 797.3h10v10h-10zM1622 816h10v10h-10zM1624.5 835.6h10v10h-10zM1627 856h10v10h-10zM1631.2 876.2h10v10h-10zM1635 894h10v10h-10zM1641.7 911.3h10v10h-10zM1647 925h10v10h-10zM1654 950h10v10h-10zM1658 967h10v10h-10zM1654.9 987.5h10v10h-10zM1653 1000h10v10h-10zM1662.5 1012.3h10v10h-10zM1670 1022h10v10h-10zM1685 1045h10v10h-10zM1693 1067h10v10h-10zM1698 1080h10v10h-10zM1710 1081h10v10h-10zM1707 1094h10v10h-10zM1718.4 1094h10v10h-10zM1729.4 1094h10v10h-10zM1738 1094h10v10h-10zM1743 1094h10v10h-10zM1754.6 1091.1h10v10h-10zM1763 1089h10v10h-10zM1772.4 1089.5h10v10h-10zM1783 1090h10v10h-10zM1790 1081h10v10h-10zM1798.2 1081h10v10h-10zM1803 1081h10v10h-10z" fill="#ff00ff"/>
</g>
<g id="cyan">
<polyline points="17,1249 225,1250 300,1250 315,1242 330,1237 345,1232 350,1226 375,1217 390,1205 400,1198 420,1190 445,1175 465,1152 480,1136 497,1127 500,1116 511,1106 525,1092 547,1081 557,1071 559,1059 561,1047 582,1035 596,1027 600,1016 632,1007 632,996 652,992 637,981 669,981 670,971 712,970 725,959 750,959 767,964 767,970 815,970 830,974 862,980 900,982 910,986 922,995 962,994 975,981 985,974 1010,969 1015,954 1035,945 1050,940 1065,932 1055,926 1082,921 1085,910 1095,907 1097,897 1125,895 1135,885 1177,885 1177,876 1197,872 1185,864 1225,859 1237,849 1257,840 1260,827 1265,819 1290,812 1292,800 1295,787 1310,775 1332,765 1315,746 1345,731 1350,710 1352,692 1365,675 1376,662 1371,642 1387,625 1389,606 1417,596 1405,590 1417,585 1435,585 1449,592 1455,605 1465,615 1482,626 1485,637 1492,647 1507,666 1509,680 1530,699 1535,715 1529,731 1557,746 1541,762 1555,782 1565,796 1577,817 1590,835 1610,860 1610,887 1621,905 1630,930 1631,951 1650,972 1655,1000 1673,1017 1690,1045 1687,1055 1700,1056 1743,1056 1755,1046 1768,1045 1780,1036 1760,1030 1788,1022 1803,1015 1790,1010 1808,1007" fill="none" stroke="#00ffff" stroke-width="4.2" stroke-linejoin="bevel" stroke-linecap="butt"/>
<path d="M12 1244h10v10h-10zM20.9 1244h10v10h-10zM29.4 1244.1h10v10h-10zM38.9 1244.1h10v10h-10zM47.6 1244.2h10v10h-10zM55.9 1244.2h10v10h-10zM65.5 1244.3h10v10h-10zM76.9 1244.3h10v10h-10zM87.9 1244.4h10v10h-10zM98.7 1244.4h10v10h-10zM107.6 1244.5h10v10h-10zM117.7 1244.5h10v10h-10zM126.8 1244.6h10v10h-10zM135.5 1244.6h10v10h-10zM144 1244.6h10v10h-10zM152.8 1244.7h10v10h-10zM164.3 1244.7h10v10h-10zM175.4 1244.8h10v10h-10zM186.4 1244.8h10v10h-10zM197.3 1244.9h10v10h-10zM206.1 1244.9h10v10h-10zM215.4 1245h10v10h-10zM220 1245h10v10h-10zM230.7 1245h10v10h-10zM241.9 1245h10v10h-10zM253.2 1245h10v10h-10zM261.6 1245h10v10h-10zM271.9 1245h10v10h-10zM282.4 1245h10v10h-10zM295 1245h10v10h-10zM303.7 1240.3h10v10h-10zM310 1237h10v10h-10zM318.4 1234.2h10v10h-10zM325 1232h10v10h-10zM340 1227h10v10h-10zM345 1221h10v10h-10zM354.2 1217.7h10v10h-10zM365.6 1213.6h10v10h-10zM370 1212h10v10h-10zM385 1200h10v10h-10zM395 1193h10v10h-10zM404.9 1189h10v10h-10zM415 1185h10v10h-10zM425.3 1178.8h10v10h-10zM434.9 1173.1h10v10h-10zM440 1170h10v10h-10zM449.2 1159.4h10v10h-10zM460 1147h10v10h-10zM468.3 1138.2h10v10h-10zM475 1131h10v10h-10zM485.4 1125.5h10v10h-10zM492 1122h10v10h-10zM495 1111h10v10h-10zM506 1101h10v10h-10zM515.3 1091.7h10v10h-10zM520 1087h10v10h-10zM528.8 1082.6h10v10h-10zM542 1076h10v10h-10zM552 1066h10v10h-10zM554 1054h10v10h-10zM556 1042h10v10h-10zM565.4 1036.6h10v10h-10zM577 1030h10v10h-10zM586.3 1024.7h10v10h-10zM591 1022h10v10h-10zM595 1011h10v10h-10zM603.5 1008.6h10v10h-10zM611.8 1006.3h10v10h-10zM620.7 1003.8h10v10h-10zM627 1002h10v10h-10zM627 991h10v10h-10zM636 989.2h10v10h-10zM647 987h10v10h-10zM638.3 980.6h10v10h-10zM632 976h10v10h-10zM640.3 976h10v10h-10zM650.9 976h10v10h-10zM664 976h10v10h-10zM665 966h10v10h-10zM675.7 965.7h10v10h-10zM687.3 965.5h10v10h-10zM695.5 965.3h10v10h-10zM707 965h10v10h-10zM720 954h10v10h-10zM730.9 954h10v10h-10zM740.5 954h10v10h-10zM745 954h10v10h-10zM755.3 957h10v10h-10zM762 959h10v10h-10zM762 965h10v10h-10zM770.8 965h10v10h-10zM780.5 965h10v10h-10zM789.1 965h10v10h-10zM798.6 965h10v10h-10zM810 965h10v10h-10zM819.3 967.5h10v10h-10zM825 969h10v10h-10zM833.3 970.5h10v10h-10zM842 972.2h10v10h-10zM852.9 974.2h10v10h-10zM857 975h10v10h-10zM866.1 975.5h10v10h-10zM874.6 975.9h10v10h-10zM886.2 976.5h10v10h-10zM895 977h10v10h-10zM905 981h10v10h-10zM917 990h10v10h-10zM925.3 989.8h10v10h-10zM934 989.6h10v10h-10zM944.5 989.3h10v10h-10zM957 989h10v10h-10zM965.2 980.8h10v10h-10zM970 976h10v10h-10zM980 969h10v10h-10zM991.7 966.7h10v10h-10zM1000.2 965h10v10h-10zM1005 964h10v10h-10zM1010 949h10v10h-10zM1019.6 944.7h10v10h-10zM1030 940h10v10h-10zM1039.8 936.7h10v10h-10zM1045 935h10v10h-10zM1054.6 929.9h10v10h-10zM1060 927h10v10h-10zM1050 921h10v10h-10zM1059 919.3h10v10h-10zM1070.3 917.2h10v10h-10zM1077 916h10v10h-10zM1080 905h10v10h-10zM1090 902h10v10h-10zM1092 892h10v10h-10zM1101 891.4h10v10h-10zM1109.8 890.7h10v10h-10zM1120 890h10v10h-10zM1130 880h10v10h-10zM1138.6 880h10v10h-10zM1146.9 880h10v10h-10zM1158.3 880h10v10h-10zM1172 880h10v10h-10zM1172 871h10v10h-10zM1181.6 869.1h10v10h-10zM1192 867h10v10h-10zM1180 859h10v10h-10zM1190.9 857.6h10v10h-10zM1201.7 856.3h10v10h-10zM1211.6 855h10v10h-10zM1220 854h10v10h-10zM1232 844h10v10h-10zM1243.2 838.9h10v10h-10zM1252 835h10v10h-10zM1255 822h10v10h-10zM1260 814h10v10h-10zM1270.5 811.1h10v10h-10zM1285 807h10v10h-10zM1287 795h10v10h-10zM1290 782h10v10h-10zM1300 774h10v10h-10zM1305 770h10v10h-10zM1315.6 765.2h10v10h-10zM1327 760h10v10h-10zM1315.6 747.2h10v10h-10zM1310 741h10v10h-10zM1318.4 736.8h10v10h-10zM1330 731h10v10h-10zM1340 726h10v10h-10zM1345 705h10v10h-10zM1347 687h10v10h-10zM1360 670h10v10h-10zM1371 657h10v10h-10zM1366 637h10v10h-10zM1376.5 625.8h10v10h-10zM1382 620h10v10h-10zM1384 601h10v10h-10zM1394.4 597.3h10v10h-10zM1404.5 593.7h10v10h-10zM1412 591h10v10h-10zM1400 585h10v10h-10zM1412 580h10v10h-10zM1420.1 580h10v10h-10zM1430 580h10v10h-10zM1438.1 584.1h10v10h-10zM1444 587h10v10h-10zM1450 600h10v10h-10zM1460 610h10v10h-10zM1470.9 617.1h10v10h-10zM1477 621h10v10h-10zM1480 632h10v10h-10zM1487 642h10v10h-10zM1495.8 653.2h10v10h-10zM1502 661h10v10h-10zM1504 675h10v10h-10zM1515.3 685.2h10v10h-10zM1525 694h10v10h-10zM1530 710h10v10h-10zM1524 726h10v10h-10zM1532.2 730.4h10v10h-10zM1540.4 734.8h10v10h-10zM1552 741h10v10h-10zM1542.1 750.9h10v10h-10zM1536 757h10v10h-10zM1550 777h10v10h-10zM1560 791h10v10h-10zM1572 812h10v10h-10zM1585 830h10v10h-10zM1595 842.5h10v10h-10zM1605 855h10v10h-10zM1605 882h10v10h-10zM1616 900h10v10h-10zM1621.4 914.9h10v10h-10zM1625 925h10v10h-10zM1626 946h10v10h-10zM1636.9 958.1h10v10h-10zM1645 967h10v10h-10zM1648 983.6h10v10h-10zM1650 995h10v10h-10zM1661.6 1005.9h10v10h-10zM1668 1012h10v10h-10zM1676.3 1025.7h10v10h-10zM1685 1040h10v10h-10zM1682 1050h10v10h-10zM1695 1051h10v10h-10zM1704.7 1051h10v10h-10zM1715.9 1051h10v10h-10zM1726.7 1051h10v10h-10zM1738 1051h10v10h-10zM1750 1041h10v10h-10zM1758.8 1040.3h10v10h-10zM1763 1040h10v10h-10zM1775 1031h10v10h-10zM1765.4 1028.1h10v10h-10zM1755 1025h10v10h-10zM1763.7 1022.5h10v10h-10zM1774.9 1019.3h10v10h-10zM1783 1017h10v10h-10zM1791.6 1013h10v10h-10zM1798 1010h10v10h-10zM1785 1005h10v10h-10zM1795.1 1003.3h10v10h-10zM1803 1002h10v10h-10z" fill="#00ffff"/>
</g>
</g></g>
<g filter="url(#b2)">
<rect x="15" y="15.3" width="1796" height="2.9" fill="#c4c4c4"/>
<rect x="15" y="18.1" width="1799" height="3.4" fill="#0a0a0a"/>
<rect x="18" y="21.5" width="1790" height="3.2" fill="#646464"/>
<rect x="18" y="1337.8" width="1790" height="3.1" fill="#646464"/>
<rect x="15" y="1340.9" width="1796" height="2.9" fill="#0a0a0a"/>
<rect x="15" y="1343.8" width="1793" height="3.1" fill="#c4c4c4"/>
<rect x="12" y="18.3" width="3" height="1325.6" fill="#b0b0b0"/>
<rect x="15" y="18.3" width="3" height="1325.6" fill="#111"/>
<rect x="18" y="21.3" width="3" height="1319.6" fill="#646464"/>
<rect x="1805" y="21.3" width="3" height="1319.6" fill="#b0b0b0"/>
<rect x="1808" y="18.3" width="3" height="1325.6" fill="#111"/>
<rect x="1811" y="18.3" width="3" height="1325.6" fill="#6a6a6a"/>
<rect x="295.5" y="1343" width="2.8" height="27.6" fill="#666"/>
<rect x="298.3" y="1343" width="2.9" height="27.6" fill="#262626"/>
<rect x="301.2" y="1343" width="2.8" height="27.6" fill="#c0c0c0"/>
<rect x="767.7" y="1343" width="2.8" height="27.6" fill="#666"/>
<rect x="770.5" y="1343" width="2.9" height="27.6" fill="#262626"/>
<rect x="773.4" y="1343" width="2.8" height="27.6" fill="#c0c0c0"/>
<rect x="1239.9" y="1343" width="2.8" height="27.6" fill="#666"/>
<rect x="1242.7" y="1343" width="2.9" height="27.6" fill="#262626"/>
<rect x="1245.6" y="1343" width="2.8" height="27.6" fill="#c0c0c0"/>
<rect x="1712.1" y="1343" width="2.8" height="27.6" fill="#666"/>
<rect x="1714.9" y="1343" width="2.9" height="27.6" fill="#262626"/>
<rect x="1717.8" y="1343" width="2.8" height="27.6" fill="#c0c0c0"/>
<rect x="59.6" y="1343" width="2.8" height="14.6" fill="#666"/>
<rect x="62.4" y="1343" width="2.9" height="14.6" fill="#262626"/>
<rect x="65.3" y="1343" width="2.8" height="14.6" fill="#c0c0c0"/>
<rect x="531.6" y="1343" width="2.8" height="14.6" fill="#666"/>
<rect x="534.4" y="1343" width="2.9" height="14.6" fill="#262626"/>
<rect x="537.3" y="1343" width="2.8" height="14.6" fill="#c0c0c0"/>
<rect x="1003.8" y="1343" width="2.8" height="14.6" fill="#666"/>
<rect x="1006.6" y="1343" width="2.9" height="14.6" fill="#262626"/>
<rect x="1009.5" y="1343" width="2.8" height="14.6" fill="#c0c0c0"/>
<rect x="1476" y="1343" width="2.8" height="14.6" fill="#666"/>
<rect x="1478.8" y="1343" width="2.9" height="14.6" fill="#262626"/>
<rect x="1481.7" y="1343" width="2.8" height="14.6" fill="#c0c0c0"/>
</g>
<g filter="url(#px)">
<line x1="1288" y1="88.5" x2="1441" y2="88.5" stroke="#000" stroke-width="7"/>
<rect x="1359.5" y="83.5" width="10" height="10" fill="#000"/>
<line x1="1288" y1="167" x2="1441" y2="167" stroke="#ff0000" stroke-width="7"/>
<rect x="1359.5" y="162" width="10" height="10" fill="#ff0000"/>
<line x1="1288" y1="244" x2="1441" y2="244" stroke="#0000ff" stroke-width="7"/>
<rect x="1359.5" y="239" width="10" height="10" fill="#0000ff"/>
<line x1="1288" y1="320.5" x2="1441" y2="320.5" stroke="#ff00ff" stroke-width="7"/>
<rect x="1359.5" y="315.5" width="10" height="10" fill="#ff00ff"/>
<line x1="1288" y1="396" x2="1441" y2="396" stroke="#00ffff" stroke-width="7"/>
<rect x="1359.5" y="391" width="10" height="10" fill="#00ffff"/>
<text x="299" y="1437" font-size="64" text-anchor="middle">100</text>
<text x="771" y="1437" font-size="64" text-anchor="middle">150</text>
<text x="1243" y="1437" font-size="64" text-anchor="middle">200</text>
<text x="1715.5" y="1437" font-size="64" text-anchor="middle">250</text>
<text x="760" y="1517.5" font-size="64" textLength="364.5" lengthAdjust="spacing">Temperature</text>
<text y="1517.5" font-size="64" class="r"><tspan x="1139">(</tspan><tspan x="1159.5" font-size="50" dy="-21">o</tspan><tspan x="1185.5" dy="21" font-size="66">C</tspan><tspan x="1229" font-size="64">)</tspan></text>
<text x="1453.2" y="110.5" font-size="64" letter-spacing="0.3">MgAl2.0</text>
<text x="1453.2" y="189" font-size="64" letter-spacing="0.6">CaAl2.0</text>
<text x="1453.2" y="266" font-size="64" letter-spacing="0.3">CaMgAl11</text>
<text x="1453.2" y="342" font-size="64" letter-spacing="0.6">ZnAl2.0</text>
<text x="1453.2" y="417.5" font-size="64" letter-spacing="0.3">ZnMgAl11</text>
</g></svg></body></html>
